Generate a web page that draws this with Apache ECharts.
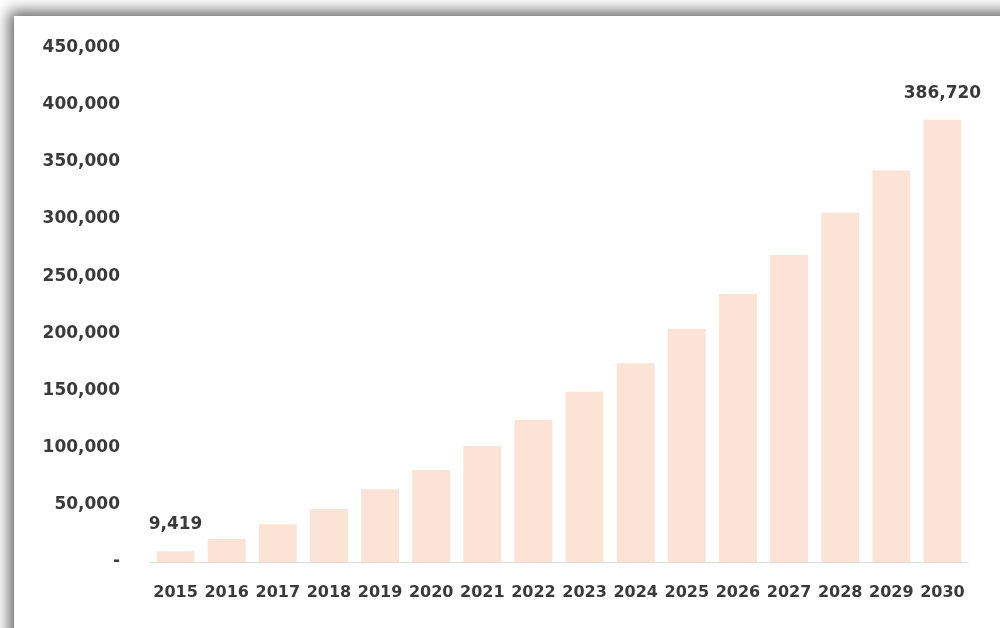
<!DOCTYPE html>
<html>
<head>
<meta charset="utf-8">
<script src="https://cdn.jsdelivr.net/npm/echarts@6/dist/echarts.min.js"></script>
<style>
html,body{margin:0;padding:0;width:1000px;height:628px;overflow:hidden;background:#fff;}
#frame{position:absolute;left:14px;top:16px;width:1100px;height:700px;background:#fff;box-shadow:0 0 14px 5px rgba(0,0,0,0.6);}
#chart{position:absolute;left:0;top:0;width:1000px;height:628px;}
</style>
</head>
<body>
<div id="frame"></div>
<div id="chart"></div>
<script>
const years = ['2015','2016','2017','2018','2019','2020','2021','2022','2023','2024','2025','2026','2027','2028','2029','2030'];
const values = [9419, 20100, 33000, 46400, 63600, 80500, 101500, 124200, 149000, 173800, 203900, 234500, 268600, 305500, 342400, 386720];
const labeledYears = ['2015','2030'];
const yTicks = [0, 50000, 100000, 150000, 200000, 250000, 300000, 350000, 400000, 450000];

const fmt = v => v === 0 ? '-' : v.toLocaleString('en-US');
const font = 'DejaVu Sans';
const textColor = '#3a3a3a';

const chart = echarts.init(document.getElementById('chart'), null, {renderer:'canvas'});
chart.setOption({
  backgroundColor: 'transparent',
  animation: false,
  grid: {left: 150, right: 32, top: 47.5, bottom: 66, containLabel: false},
  xAxis: {
    type: 'category',
    data: years,
    axisLine: {show: true, lineStyle: {color: '#d9d9d9', width: 1}},
    axisTick: {show: false},
    axisLabel: {color: textColor, fontFamily: font, fontWeight: 'bold', fontSize: 16, margin: 23, interval: 0}
  },
  yAxis: {
    type: 'value',
    min: yTicks[0],
    max: yTicks[yTicks.length - 1],
    interval: yTicks[1] - yTicks[0],
    splitLine: {show: false},
    axisLine: {show: false},
    axisTick: {show: false},
    axisLabel: {color: textColor, fontFamily: font, fontWeight: 'bold', fontSize: 17, margin: 30, formatter: fmt}
  },
  series: [{
    type: 'bar',
    barCategoryGap: '26%',
    itemStyle: {color: '#fbe3d5'},
    data: values.map((v, i) => ({
      value: v,
      label: {
        show: labeledYears.includes(years[i]),
        position: 'top',
        distance: 18,
        color: textColor,
        fontFamily: font,
        fontWeight: 'bold',
        fontSize: 17,
        formatter: p => fmt(p.value)
      }
    }))
  }]
});
</script>
</body>
</html>
